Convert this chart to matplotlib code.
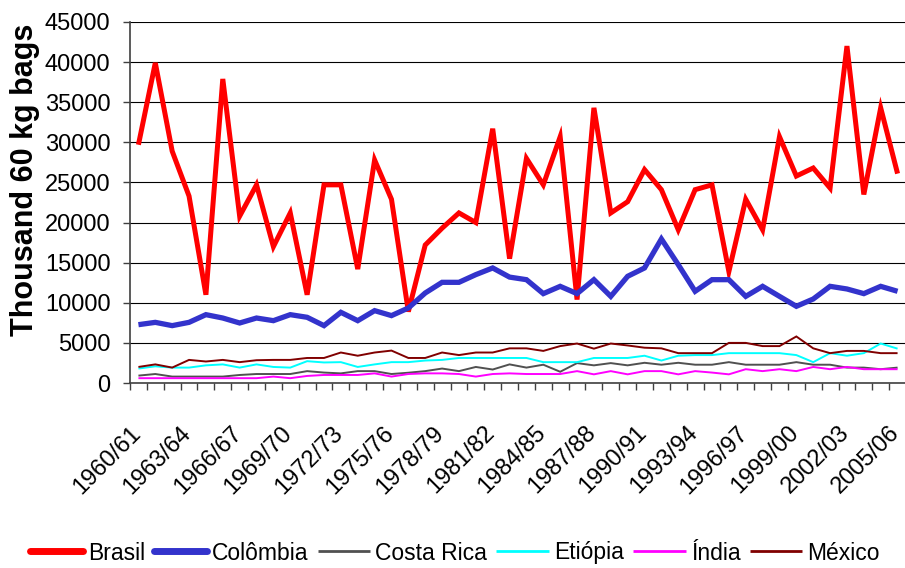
import matplotlib
matplotlib.use("Agg")
import matplotlib.pyplot as plt
import matplotlib.font_manager as fm
import matplotlib.transforms as mtransforms
from matplotlib.lines import Line2D

years = [f"{y}/{str(y + 1)[-2:]}" for y in range(1960, 2006)]

brasil = [29700, 39900, 28900, 23300, 11000, 37900, 20800, 24700, 17000, 21200,
          11000, 24700, 24700, 14200, 27800, 22900, 8900, 17200, 19300, 21200,
          20000, 31700, 15500, 28000, 24700, 30700, 10400, 34300, 21200, 22600,
          26600, 24100, 19100, 24100, 24700, 13900, 22900, 19100, 30700, 25800,
          26800, 24300, 42000, 23500, 34300, 26100]
colombia = [7270, 7560, 7150, 7560, 8520, 8100, 7480, 8100, 7770, 8520,
            8190, 7150, 8810, 7770, 9020, 8400, 9350, 11220, 12550, 12550,
            13510, 14340, 13200, 12880, 11140, 12050, 11140, 12880, 10800, 13300,
            14340, 17950, 14750, 11430, 12880, 12880, 10800, 12050, 10800, 9560,
            10470, 12050, 11720, 11140, 12050, 11430]
costa_rica = [920, 1120, 800, 800, 800, 800, 1000, 1120, 1120, 1120,
              1480, 1300, 1200, 1480, 1480, 1120, 1280, 1480, 1800, 1480,
              2000, 1680, 2320, 1920, 2280, 1400, 2480, 2200, 2480, 2200,
              2520, 2280, 2520, 2280, 2280, 2600, 2280, 2280, 2280, 2600,
              2280, 2280, 1920, 1920, 1720, 1920]
etiopia = [1800, 2080, 1920, 1920, 2200, 2320, 1920, 2320, 2000, 1920,
           2720, 2560, 2600, 2000, 2320, 2600, 2600, 2800, 2880, 3120,
           3120, 3120, 3120, 3120, 2600, 2600, 2600, 3120, 3120, 3120,
           3400, 2800, 3400, 3480, 3480, 3720, 3720, 3720, 3720, 3480,
           2600, 3720, 3400, 3720, 4920, 4280]
india = [600, 600, 600, 600, 600, 600, 600, 600, 800, 600,
         880, 1000, 1000, 1000, 1200, 800, 1120, 1200, 1200, 1120,
         800, 1120, 1200, 1120, 1120, 1120, 1480, 1080, 1480, 1080,
         1480, 1480, 1080, 1480, 1300, 1080, 1720, 1480, 1720, 1480,
         2000, 1720, 2000, 1720, 1720, 1720]
mexico = [2000, 2320, 1920, 2880, 2680, 2880, 2600, 2840, 2880, 2880,
          3120, 3120, 3800, 3400, 3800, 4040, 3120, 3120, 3800, 3480,
          3800, 3800, 4320, 4320, 4000, 4600, 4920, 4280, 4920, 4680,
          4400, 4320, 3720, 3720, 3720, 5000, 5000, 4600, 4600, 5800,
          4320, 3720, 4000, 4000, 3720, 3720]

series_names = ["Brasil", "Colômbia", "Costa Rica", "Etiópia", "Índia", "México"]
series_values = [brasil, colombia, costa_rica, etiopia, india, mexico]
series_colors = ["#FF0000", "#3333CC", "#505050", "#00FFFF", "#FF00FF", "#800000"]
series_widths = [3.6, 3.8, 1.4, 1.4, 1.4, 1.4]

y_ticks = list(range(0, 45001, 5000))
label_step = 3

avail = {f.name for f in fm.fontManager.ttflist}
narrow = "Liberation Sans Narrow" in avail
base_font = "Liberation Sans"
plt.rcParams["font.family"] = [base_font, "DejaVu Sans"]

fig = plt.figure(figsize=(9.05, 5.68), dpi=100)
ax = fig.add_axes([130 / 905, 1 - 383 / 568, 776 / 905, 361 / 568])

x = list(range(len(years)))
for name, vals, col, lw in zip(series_names, series_values, series_colors, series_widths):
    ax.plot(x, vals, color=col, lw=lw, label=name, solid_joinstyle="miter",
            solid_capstyle="butt")

ax.set_xlim(-0.5, len(years) - 0.5)
ax.set_ylim(0, 45000)
ax.set_yticks(y_ticks)
ax.set_yticklabels([str(v) for v in y_ticks], fontsize=17)
ax.yaxis.grid(True, color="black", lw=0.8)
ax.set_axisbelow(True)

# category boundaries carry the tick marks; labels every 3rd category
ax.set_xticks([i - 0.5 for i in range(len(years) + 1)])
ax.set_xticklabels([])
ax.tick_params(axis="x", length=5, width=1, color="#404040", direction="out")
ax.tick_params(axis="y", length=5, width=1, color="#404040", pad=9)

lab_trans = ax.get_xaxis_transform() + mtransforms.ScaledTranslation(
    -9 / 100, -39 / 100, fig.dpi_scale_trans)
for i in x[::label_step]:
    ax.text(i, 0, years[i], transform=lab_trans, rotation=45, ha="right", va="top",
            rotation_mode="anchor", fontsize=17, clip_on=False)

for s in ["top", "right"]:
    ax.spines[s].set_visible(False)
for s in ["left", "bottom"]:
    ax.spines[s].set_color("#404040")
    ax.spines[s].set_linewidth(1.2)

ax.set_ylabel("Thousand 60 kg bags", fontsize=22, fontweight="bold")
ax.yaxis.set_label_coords(-90 / 776, (383 - 180) / 361)

if narrow:
    lprop = fm.FontProperties(family="Liberation Sans Narrow", size=19.8)
    hl, htp, cs = 1.9, 0.2, 0.36
else:
    lprop = fm.FontProperties(family="Liberation Sans", size=16.5)
    hl, htp, cs = 2.3, 0.22, 0.4

handles = [Line2D([0], [0], color=c, lw=(5 if w > 3 else 2), solid_capstyle="round" if w > 3 else "butt")
           for c, w in zip(series_colors, series_widths)]
fig.legend(handles, series_names, loc="center", ncol=6, frameon=False,
           bbox_to_anchor=(455 / 905, 1 - 553 / 568), prop=lprop,
           handlelength=hl, handletextpad=htp, columnspacing=cs, borderpad=0)

fig.savefig("out.png", dpi=100)
